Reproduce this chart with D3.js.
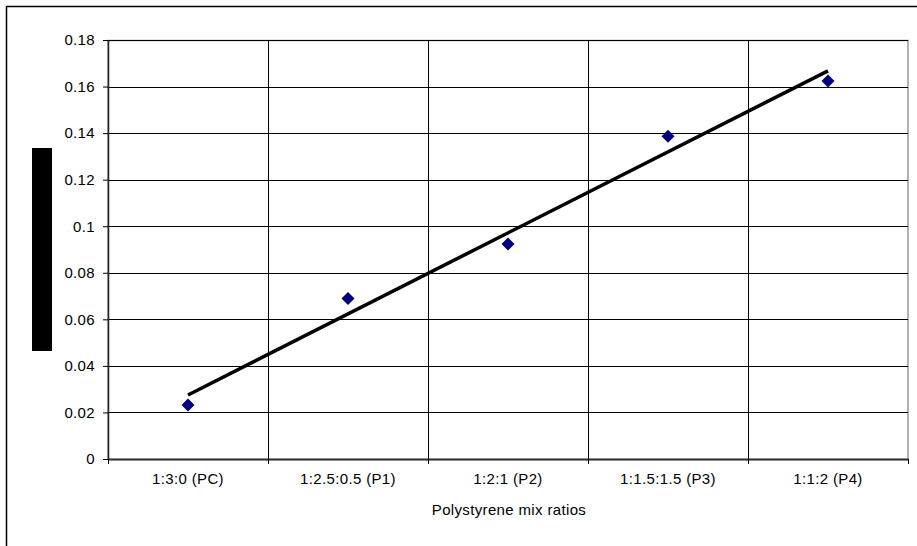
<!DOCTYPE html>
<html><head><meta charset="utf-8">
<script src="https://cdn.jsdelivr.net/npm/d3@7"></script>
<style>html,body{margin:0;padding:0;background:#fff;overflow:hidden}</style>
</head><body>
<svg id="c" width="917" height="546"></svg>
<script>
const categories = ["1:3:0 (PC)", "1:2.5:0.5 (P1)", "1:2:1 (P2)", "1:1.5:1.5 (P3)", "1:1:2 (P4)"];
const values = [0.0232, 0.069, 0.0924, 0.1387, 0.1624];
const yTicks = [0, 0.02, 0.04, 0.06, 0.08, 0.1, 0.12, 0.14, 0.16, 0.18];
const xTitle = "Polystyrene mix ratios";

const svg = d3.select("#c");
const font = "'Liberation Sans', Arial, sans-serif";
const FS = 15, LS = 0.35;
const L = 108, R = 908, T = 40, B = 459;

// outer chart border (only top/left visible)
svg.append("rect").attr("x", 6.5).attr("y", 6.5).attr("width", 1000).attr("height", 1000)
  .attr("fill", "none").attr("stroke", "#000").attr("stroke-width", 1.5);

const x = d3.scaleBand().domain(categories).range([L, R]).padding(0);
const y = d3.scaleLinear().domain([0, 0.18]).range([B, T]);

// plot area border (gray)
svg.append("rect").attr("x", L).attr("y", T + 0.5).attr("width", R - L).attr("height", B - T)
  .attr("fill", "none").attr("stroke", "#999").attr("stroke-width", 1.5);

// horizontal grid
svg.append("g").selectAll("line").data(yTicks.slice(1)).join("line")
  .attr("x1", L).attr("x2", R).attr("y1", d => Math.round(y(d)) + 0.5).attr("y2", d => Math.round(y(d)) + 0.5)
  .attr("stroke", "#000").attr("stroke-width", 1);
// vertical grid at category boundaries
svg.append("g").selectAll("line").data(categories.slice(1)).join("line")
  .attr("x1", d => Math.round(x(d)) + 0.5).attr("x2", d => Math.round(x(d)) + 0.5)
  .attr("y1", T).attr("y2", B).attr("stroke", "#000").attr("stroke-width", 1);

// y axis
const yAxis = svg.append("g").attr("transform", `translate(${L},0)`)
  .call(d3.axisLeft(y).tickValues(yTicks).tickSize(5).tickSizeOuter(0).tickFormat(d => String(+d.toFixed(2))));
yAxis.select(".domain").attr("stroke", "#222").attr("stroke-width", 1.5);
yAxis.selectAll(".tick line").attr("stroke", "#000");
yAxis.selectAll("text").attr("font-family", font).attr("font-size", FS).attr("letter-spacing", LS)
  .attr("fill", "#000").attr("x", -13);

// x axis
const xAxis = svg.append("g").attr("transform", `translate(0,${B})`)
  .call(d3.axisBottom(x).tickSize(0).tickSizeOuter(0));
xAxis.select(".domain").attr("stroke", "#333").attr("stroke-width", 2);
xAxis.selectAll("text").attr("font-family", font).attr("font-size", FS).attr("letter-spacing", LS)
  .attr("fill", "#000").attr("dy", "0").attr("y", 25);
// tick marks at category boundaries
const bounds = categories.map(c => x(c)).concat([R]);
svg.append("g").selectAll("line").data(bounds).join("line")
  .attr("x1", d => Math.round(d) + 0.5).attr("x2", d => Math.round(d) + 0.5)
  .attr("y1", B).attr("y2", B + 5).attr("stroke", "#000");

// x title
svg.append("text").attr("x", 509).attr("y", 515).attr("text-anchor", "middle")
  .attr("font-family", font).attr("font-size", FS).attr("letter-spacing", LS).attr("fill", "#000").text(xTitle);

// redacted y-axis title block
svg.append("rect").attr("x", 32).attr("y", 148).attr("width", 20).attr("height", 203).attr("fill", "#000");

// trendline (linear regression)
const xs = values.map((v, i) => i + 1);
const mx = d3.mean(xs), my = d3.mean(values);
const slope = d3.sum(xs.map((xi, i) => (xi - mx) * (values[i] - my))) / d3.sum(xs.map(xi => (xi - mx) ** 2));
const icpt = my - slope * mx;
const cx = i => x(categories[i]) + x.bandwidth() / 2;
svg.append("line")
  .attr("x1", cx(0)).attr("y1", y(icpt + slope * 1))
  .attr("x2", cx(4)).attr("y2", y(icpt + slope * 5))
  .attr("stroke", "#000").attr("stroke-width", 3.5);

// markers
svg.append("g").selectAll("path").data(values).join("path")
  .attr("transform", (d, i) => `translate(${cx(i)},${y(d)})`)
  .attr("d", "M0,-6.5L6.5,0L0,6.5L-6.5,0Z").attr("fill", "#000080");
</script>
</body></html>
